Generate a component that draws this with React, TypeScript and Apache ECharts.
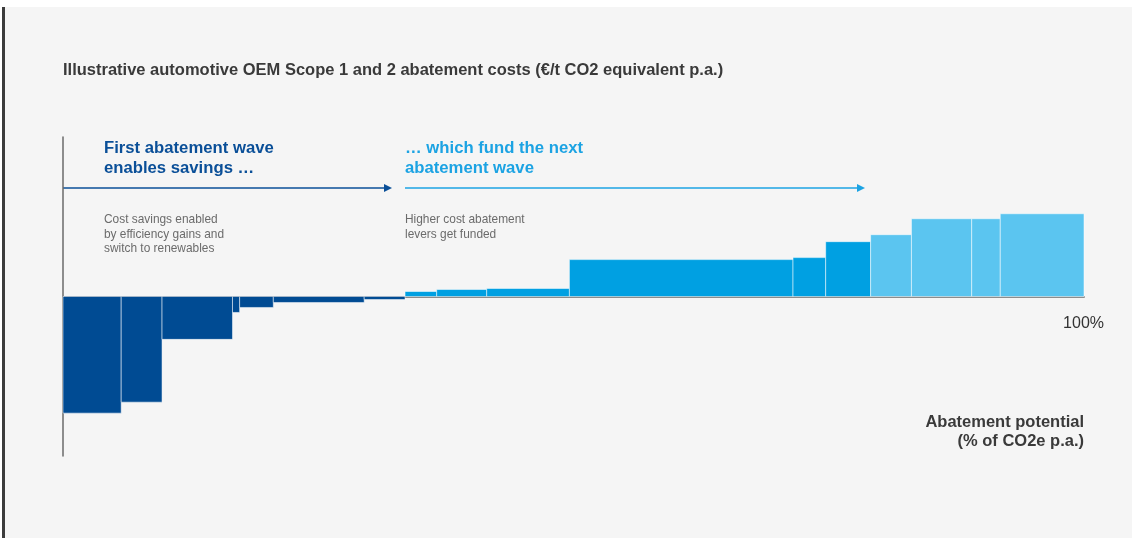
import React, { useEffect, useRef } from "react";
import * as echarts from "echarts";

// Abatement levers, ordered by cost (marginal abatement cost curve)
const leverWidths = [5.7, 4.0, 6.9, 0.7, 3.3, 8.9, 4.0, 3.1, 4.9, 8.1, 21.9, 3.2, 4.4, 4.0, 5.9, 2.8, 8.2]; // % of CO2e p.a.
const leverCosts = [-117, -106, -43, -16, -11, -6, -3, 5, 7, 8, 37, 39, 55, 62, 78, 78, 83]; // €/t CO2e (illustrative)
const leverGroups = [0, 0, 0, 0, 0, 0, 0, 1, 1, 1, 1, 1, 1, 2, 2, 2, 2];
const groupColors = ["#004b93", "#00a0e2", "#5bc5f0"];

const titleText = "Illustrative automotive OEM Scope 1 and 2 abatement costs (€/t CO2 equivalent p.a.)";
const wave1Lines = ["First abatement wave", "enables savings …"];
const wave2Lines = ["… which fund the next", "abatement wave"];
const wave1Note = ["Cost savings enabled", "by efficiency gains and", "switch to renewables"];
const wave2Note = ["Higher cost abatement", "levers get funded"];
const axisEndLabel = "100%";
const xAxisTitle = ["Abatement potential", "(% of CO2e p.a.)"];

export default function App() {
  const ref = useRef<HTMLDivElement>(null);
  useEffect(() => {
    if (!ref.current) return;
    const chart = echarts.init(ref.current, null, { renderer: "svg" });
    let acc = 0;
    const data = leverWidths.map((w, i) => {
      const start = acc;
      acc += w;
      return [start, acc, leverCosts[i], leverGroups[i]];
    });
    const font = "'Liberation Sans', Arial, Helvetica, sans-serif";
    const textLines = (lines: string[], x: number, y0: number, dy: number, style: any) =>
      lines.map((t, i) => ({
        type: "text",
        x,
        y: y0 + i * dy,
        style: { text: t, fontFamily: font, textVerticalAlign: "middle", ...style },
      }));
    const arrow = (x0: number, x1: number, y: number, color: string) => [
      { type: "line", shape: { x1: x0, y1: y, x2: x1 - 6, y2: y }, style: { stroke: color, lineWidth: 1.5 } },
      {
        type: "polygon",
        shape: { points: [[x1 - 8, y - 4], [x1, y], [x1 - 8, y + 4]] },
        style: { fill: color },
      },
    ];
    chart.setOption({
      animation: false,
      grid: { left: 63, right: 51, top: 137, bottom: 82 },
      xAxis: {
        type: "value",
        min: 0,
        max: 100,
        axisLine: { show: true, onZero: true, lineStyle: { color: "#8c8c8c", width: 2 } },
        axisTick: { show: false },
        axisLabel: { show: false },
        splitLine: { show: false },
      },
      yAxis: {
        type: "value",
        min: -160,
        max: 160,
        axisLine: { show: true, onZero: false, lineStyle: { color: "#6a6a6a", width: 1.5 } },
        axisTick: { show: false },
        axisLabel: { show: false },
        splitLine: { show: false },
      },
      graphic: [
        { type: "rect", z: -10, shape: { x: 0, y: 0, width: 1135, height: 538 }, style: { fill: "#ffffff" } },
        { type: "rect", z: -9, shape: { x: 4, y: 7, width: 1128, height: 531 }, style: { fill: "#f5f5f5" } },
        { type: "rect", z: -8, shape: { x: 2, y: 7, width: 3, height: 531 }, style: { fill: "#3c3c3c" } },
        {
          type: "text",
          x: 63,
          y: 69,
          style: { text: titleText, fontFamily: font, fontSize: 16.5, fontWeight: "bold", fill: "#3a3a3a", textVerticalAlign: "middle" },
        },
        ...textLines(wave1Lines, 104, 147, 20.5, { fontSize: 16.7, fontWeight: "bold", fill: "#0a4f98" }),
        ...textLines(wave2Lines, 405, 147, 20.5, { fontSize: 16.7, fontWeight: "bold", fill: "#1ca3e3" }),
        ...arrow(63, 392, 188, "#0a4f98"),
        ...arrow(405, 865, 188, "#1ca3e3"),
        ...textLines(wave1Note, 104, 219, 14.5, { fontSize: 11.9, fill: "#6b6b6b" }),
        ...textLines(wave2Note, 405, 219, 14.5, { fontSize: 11.9, fill: "#6b6b6b" }),
        {
          type: "text",
          x: 1104,
          y: 322,
          style: { text: axisEndLabel, fontFamily: font, fontSize: 16, fill: "#333333", textAlign: "right", textVerticalAlign: "middle" },
        },
        ...textLines(xAxisTitle, 1084, 421, 19, { fontSize: 16.5, fontWeight: "bold", fill: "#3a3a3a", textAlign: "right" }),
      ],
      series: [
        {
          type: "custom",
          encode: { x: [0, 1], y: 2 },
          data,
          renderItem: (params: any, api: any) => {
            const x0 = api.value(0);
            const x1 = api.value(1);
            const v = api.value(2);
            const g = api.value(3);
            const p0 = api.coord([x0, 0]);
            const p1 = api.coord([x1, v]);
            return {
              type: "rect",
              shape: {
                x: p0[0],
                y: Math.min(p0[1], p1[1]),
                width: p1[0] - p0[0],
                height: Math.abs(p1[1] - p0[1]),
              },
              style: { fill: groupColors[g], stroke: "rgba(255,255,255,0.5)", lineWidth: 1 },
            };
          },
        },
      ],
    });
    return () => chart.dispose();
  }, []);
  return <div ref={ref} style={{ position: "fixed", left: 0, top: 0, width: 1135, height: 538 }} />;
}
